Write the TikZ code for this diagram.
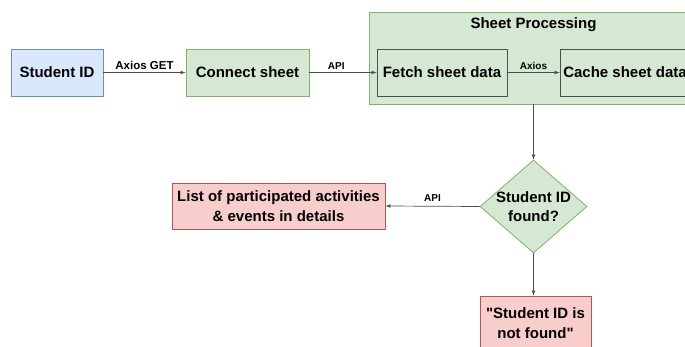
\documentclass[tikz,border=0pt]{standalone}
\usepackage{fontspec}
\setmainfont{Liberation Sans}
\newfontfamily\quotefont{Liberation Sans}
\usetikzlibrary{shapes.geometric}
\usetikzlibrary{positioning}
\usetikzlibrary{arrows}
\definecolor{blueFill}{HTML}{DAE8FC}
\definecolor{blueLine}{HTML}{6C8EBF}
\definecolor{greenFill}{HTML}{D5E8D4}
\definecolor{greenLine}{HTML}{82B366}
\definecolor{redFill}{HTML}{F8CECC}
\definecolor{redLine}{HTML}{B85450}
\definecolor{innerLine}{HTML}{4D4D4D}
\definecolor{edgeGrey}{HTML}{4D4D4D}
\newcommand{\boxfont}{\bfseries\fontsize{15}{19.5}\selectfont}
\newcommand{\tagfont}{\bfseries\fontsize{10}{12}\selectfont}
\newcommand{\dq}{{\quotefont\bfseries"}}

\begin{document}
\begin{tikzpicture}[x=1pt, y=-1pt,
  box/.style={rectangle, draw, inner sep=0pt, line width=0.8pt,
              minimum height=47pt, align=center, font=\boxfont},
  bluebox/.style={box, fill=blueFill, draw=blueLine},
  greenbox/.style={box, fill=greenFill, draw=greenLine},
  innerbox/.style={box, fill=greenFill, draw=innerLine},
  redbox/.style={box, fill=redFill, draw=redLine},
  decision/.style={diamond, draw=greenLine, fill=greenFill, inner sep=0pt,
                   line width=0.8pt, minimum width=107pt, minimum height=93pt},
  flow/.style={->, >=latex, draw=edgeGrey, line width=0.7pt},
  tag/.style={inner sep=0pt, font=\tagfont}]

\useasboundingbox (0,0) rectangle (685,347);
\clip (0,0) rectangle (685,347);

%---------------------------------------
% Input and connection
%---------------------------------------
\node[bluebox, minimum width=92pt] (sid) at (57,72.5) {Student ID};
\node[greenbox, minimum width=123pt] (conn) at (247.5,72.5) {Connect sheet};

%---------------------------------------
% Sheet processing group
%---------------------------------------
\node[greenbox, minimum width=329pt, minimum height=92pt] (proc) at (533.5,58) {};
\node[font=\boxfont, inner sep=0pt] (procTitle) at (533.5,25) {Sheet Processing};
\node[innerbox, minimum width=130pt] (fetch) at (442,72.5) {Fetch sheet data};
\node[innerbox, minimum width=130pt] (cache) at (625,72.5) {Cache sheet data};

%---------------------------------------
% Decision and results
%---------------------------------------
\node[decision] (dec) at (533.5,206.5) {};
\node[font=\boxfont, align=center, inner sep=0pt] (decText) at (dec) {Student ID\\found?};
\node[redbox, minimum width=213pt, minimum height=46pt] (list) at (278.5,206)
  {List of participated activities\\\& events in details};
\node[redbox, minimum width=111pt, minimum height=54pt] (nf) at (535.5,323)
  {\dq Student ID is\\not found\dq};

%---------------------------------------
% Connectors
%---------------------------------------
\draw[flow] (sid) -- node[tag, above=2.5pt, font=\bfseries\fontsize{11.5}{13}\selectfont] (getTag) {Axios GET} (conn);
\draw[flow] (conn) -- node[tag, pos=0.4, above=3pt] (apiTag) {API} (fetch);
\draw[flow] (fetch) -- node[tag, above=3pt] (axTag) {Axios} (cache);
\draw[flow] (proc.south) -- (dec.north);
\draw[flow] (dec.west) -- node[tag, above=4pt] (apiTagB) {API} (list.east);
\draw[flow] (dec.south) -- (dec.south |- nf.north);

\end{tikzpicture}
\end{document}
